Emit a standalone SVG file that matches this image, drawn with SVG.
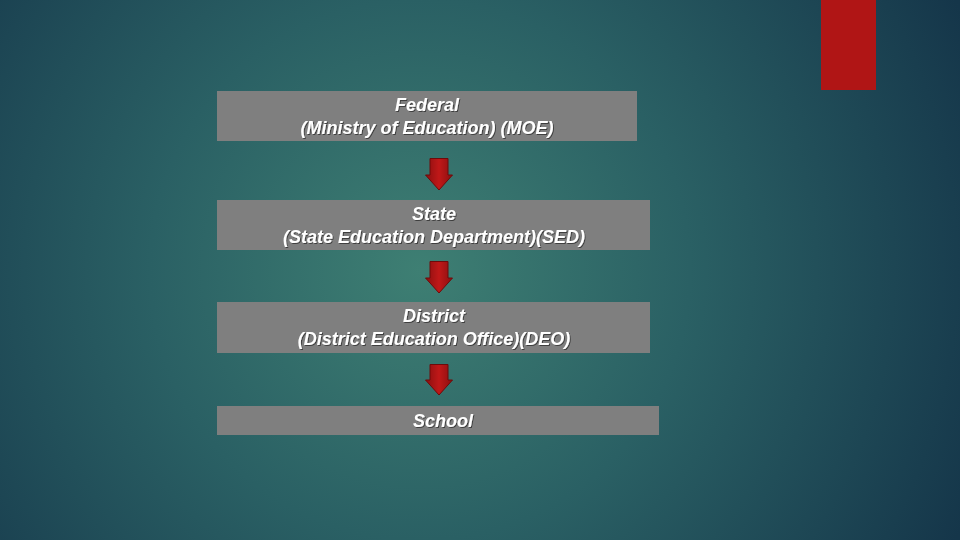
<svg xmlns="http://www.w3.org/2000/svg" width="960" height="540" viewBox="0 0 960 540">
<defs>
<radialGradient id="bg" cx="420" cy="270" r="600" gradientUnits="userSpaceOnUse">
<stop offset="0" stop-color="#3e7f73"/>
<stop offset="0.45" stop-color="#2a6064"/>
<stop offset="1" stop-color="#15364a"/>
</radialGradient>
<linearGradient id="arr" x1="0" y1="0" x2="1" y2="0">
<stop offset="0" stop-color="#8a0f10"/>
<stop offset="0.5" stop-color="#c01818"/>
<stop offset="1" stop-color="#8a0f10"/>
</linearGradient>
<filter id="ts" x="-5%" y="-20%" width="110%" height="140%">
<feDropShadow dx="1" dy="1" stdDeviation="0.6" flood-color="#000" flood-opacity="0.5"/>
</filter>
</defs>
<style>
.box{fill:#7f7f7f}
.t{font-family:"Liberation Sans",Arial,sans-serif;font-size:18px;font-style:italic;font-weight:bold;fill:#ffffff;text-anchor:middle;filter:url(#ts)}
.ar{fill:url(#arr);stroke:#6e0a0a;stroke-width:1}
</style>
<rect width="960" height="540" fill="url(#bg)"/>
<rect x="821" y="0" width="55" height="90" fill="#b01515"/>
<g id="federal">
<rect class="box" x="217" y="91" width="420" height="50"/>
<text class="t" x="427" y="111">Federal</text>
<text class="t" x="427" y="134">(Ministry of Education) (MOE)</text>
</g>
<g id="state">
<rect class="box" x="217" y="200" width="433" height="50"/>
<text class="t" x="434" y="220">State</text>
<text class="t" x="434" y="243">(State Education Department)(SED)</text>
</g>
<g id="district">
<rect class="box" x="217" y="302" width="433" height="51"/>
<text class="t" x="434" y="322">District</text>
<text class="t" x="434" y="345">(District Education Office)(DEO)</text>
</g>
<g id="school">
<rect class="box" x="217" y="406" width="442" height="29"/>
<text class="t" x="443" y="427">School</text>
</g>
<g id="connectors">
<path class="ar" d="M430 158.5 H448 V175 H452.5 L439 190 L425.5 175 H430 Z"/>
<path class="ar" d="M430 261.5 H448 V278 H452.5 L439 293 L425.5 278 H430 Z"/>
<path class="ar" d="M430 364.5 H448 V380 H452.5 L439 395 L425.5 380 H430 Z"/>
</g>
</svg>
